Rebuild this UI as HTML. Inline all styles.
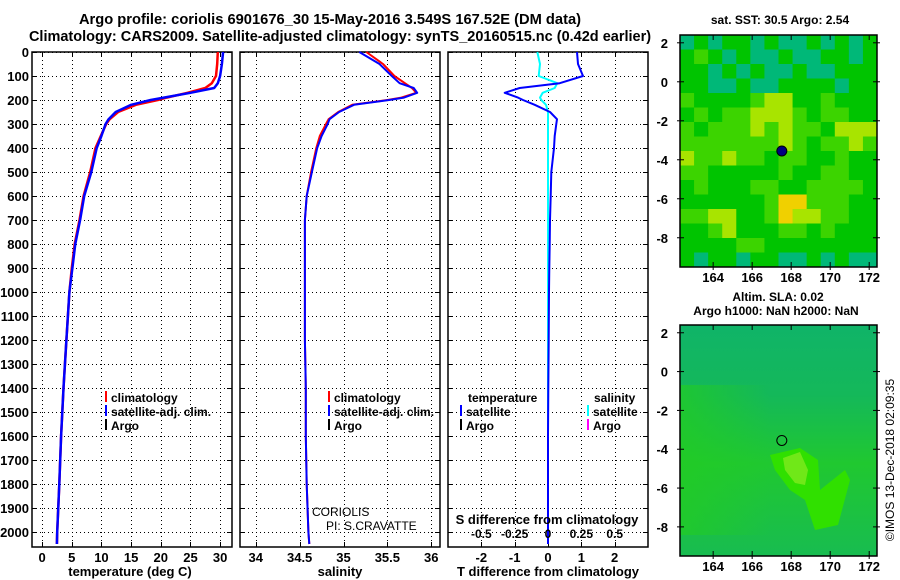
<!DOCTYPE html>
<html><head><meta charset="utf-8">
<style>
html,body{margin:0;padding:0;background:#fff;}
svg{display:block;font-family:"Liberation Sans",Arial,sans-serif;font-weight:bold;}
</style></head>
<body>
<svg id="fig" width="900" height="580" viewBox="0 0 900 580">
<text x="330" y="24" font-size="14.7" text-anchor="middle">Argo profile: coriolis 6901676_30 15-May-2016 3.549S 167.52E (DM data)</text>
<text x="340" y="41" font-size="14.5" text-anchor="middle">Climatology: CARS2009. Satellite-adjusted climatology: synTS_20160515.nc (0.42d earlier)</text>
<g id="g"></g>
</svg>
<script>
// ---------- data ----------
const depthTicks=[0,100,200,300,400,500,600,700,800,900,1000,1100,1200,1300,1400,1500,1600,1700,1800,1900,2000];
const tempTicks=[0,5,10,15,20,25,30];
const salTicks=[34,34.5,35,35.5,36];
const tdiffTicks=[-2,-1,0,1,2];
const sdiffTicks=[-0.5,-0.25,0,0.25,0.5];
const sdiffLabels=["-0.5","-0.25","0","0.25","0.5"];
const depths=[0,50,100,130,150,170,190,200,220,250,280,300,350,400,500,600,700,800,900,1000,1200,1400,1600,1800,2000,2050];
const tempArgo=[30.5,30.3,30.0,29.6,29.0,25.0,20.5,18.3,15.0,12.4,11.2,10.7,10.0,9.2,8.3,7.1,6.4,5.6,5.1,4.6,4.1,3.6,3.2,2.9,2.55,2.5];
const tempClim=[29.6,29.5,29.3,28.6,27.5,24.5,21.0,19.5,15.8,12.8,11.4,10.8,9.9,9.0,8.1,7.0,6.3,5.5,5.0,4.6,4.1,3.6,3.2,2.9,2.55,2.5];
const salArgo=[35.18,35.41,35.55,35.64,35.80,35.84,35.69,35.52,35.12,34.95,34.84,34.82,34.75,34.70,34.64,34.58,34.56,34.56,34.56,34.56,34.56,34.57,34.57,34.58,34.60,34.61];
const salClim=[35.26,35.45,35.58,35.70,35.78,35.83,35.66,35.50,35.10,34.94,34.83,34.80,34.73,34.69,34.63,34.58,34.56,34.56,34.56,34.56,34.56,34.57,34.57,34.58,34.60,34.61];
const tDiff=[0.87,0.9,1.05,0.35,-0.85,-1.3,-0.9,-0.75,-0.4,0.06,0.27,0.25,0.2,0.18,0.1,0.08,0.06,0.05,0.04,0.03,0.02,0.01,0.0,0.0,0.0,0.0];
const sDiff=[-0.08,-0.06,-0.07,0.07,0.05,-0.04,-0.06,-0.05,-0.015,0.0,0.0,0.0,0.0,0.0,0.0,0.0,0.0,0.0,0.0,0.0,0.0,0.0,0.0,0.0,0.0,0.0];
const lonTicks=[164,166,168,170,172];
const latTicks=[2,0,-2,-4,-6,-8];
const sstGrid=[
[0,1,0,1,1,0,1,0,0,1,0,1,0,1],
[1,2,1,0,1,0,0,1,0,0,1,1,0,1],
[1,1,0,1,0,1,0,0,1,0,0,1,1,1],
[1,1,0,0,1,0,0,1,1,1,1,0,1,1],
[2,1,1,1,1,2,3,3,1,1,2,1,1,1],
[1,2,1,2,2,3,3,3,2,1,2,2,1,1],
[2,1,2,2,2,3,2,3,2,2,1,3,3,3],
[2,2,2,2,2,2,2,3,2,1,2,2,3,2],
[3,2,2,3,2,2,1,2,2,1,1,2,1,1],
[2,2,1,1,1,1,1,2,1,1,2,2,1,1],
[1,2,1,1,1,2,2,1,1,2,2,2,2,1],
[1,1,1,1,1,1,2,4,4,2,2,2,1,1],
[2,2,3,3,1,1,2,4,3,3,2,2,1,1],
[1,1,2,3,1,1,1,2,2,1,2,1,1,1],
[1,1,1,1,2,2,1,1,1,1,1,1,1,1],
[1,0,1,1,0,1,1,0,0,1,0,1,0,0]];
const argoLon=167.52, argoLat=-3.549;

// ---------- helpers ----------
const NS="http://www.w3.org/2000/svg";
const G=document.getElementById('g');
function mk(tag,at,parent){const e=document.createElementNS(NS,tag);for(const k in at)e.setAttribute(k,at[k]);(parent||G).appendChild(e);return e;}
function txt(x,y,s,size,anchor,parent){const t=mk('text',{x:x,y:y,'font-size':size||13,'text-anchor':anchor||'middle'},parent);t.textContent=s;return t;}
const PT=52,PB=547;
const yD=d=>PT+d*0.24;
const px=v=>Math.round(v)+0.5;
function panel(x0,x1,xmin,xmax,name){
  const sx=v=>x0+(v-xmin)/(xmax-xmin)*(x1-x0);
  const g=mk('g',{});
  
  
  return {g,sx,x0,x1};
}
function frame(p,ticks,labels,showY){
  const g=p.g;
  depthTicks.forEach(d=>{
    const y=px(yD(d));
    const l=mk('line',{x1:p.x0,x2:p.x1,y1:y,y2:y,stroke:'#000','stroke-dasharray':'1,3','stroke-width':1,'shape-rendering':'crispEdges'},g);
    
    
    mk('line',{x1:p.x0,x2:p.x0+5,y1:y,y2:y,stroke:'#000','shape-rendering':'crispEdges'},g);
    mk('line',{x1:p.x1-5,x2:p.x1,y1:y,y2:y,stroke:'#000','shape-rendering':'crispEdges'},g);
    if(showY){const t=txt(29,yD(d)+5,String(d),13,'end',g);
      
      }
  });
  ticks.forEach((v,i)=>{
    const x=px(p.sx(v));
    const l=mk('line',{x1:x,x2:x,y1:PT,y2:PB,stroke:'#000','stroke-dasharray':'1,3','shape-rendering':'crispEdges'},g);
    
    
    mk('line',{x1:x,x2:x,y1:PB-5,y2:PB,stroke:'#000','shape-rendering':'crispEdges'},g);
    mk('line',{x1:x,x2:x,y1:PT,y2:PT+5,stroke:'#000','shape-rendering':'crispEdges'},g);
    if(labels){const t=txt(p.sx(v),562,labels[i],13,'middle',g);
      
      }
  });
  const r=mk('rect',{x:p.x0,y:PT,width:p.x1-p.x0,height:PB-PT,fill:'none',stroke:'#000','stroke-width':1.5},g);
  
  
}
function line(p,xs,ys,color,w,name){
  const pts=xs.map((v,i)=>p.sx(v).toFixed(1)+','+yD(ys[i]).toFixed(1)).join(' ');
  const l=mk('polyline',{points:pts,fill:'none',stroke:color,'stroke-width':w,'stroke-linejoin':'round'},p.g);
  
  
}
function legItem(g,x,y,color,label){
  mk('rect',{x:x,y:y-11,width:2,height:11,fill:color},g);
  const t=txt(x+6,y,label,12,'start',g);
  
  
}

// ---------- panel 1: temperature ----------
const p1=panel(32,232,-1.7,32,'temperature-panel');
frame(p1,tempTicks,tempTicks.map(String),true);
line(p1,tempClim,depths,'#f00',2.5,'temperature-climatology-line');
line(p1,tempArgo,depths,'#00f',2.5,'temperature-satellite-line');
legItem(p1.g,105,402,'#f00','climatology');
legItem(p1.g,105,416,'#00f','satellite-adj. clim.');
legItem(p1.g,105,430,'#000','Argo');
{const t=txt(130,576,'temperature (deg C)',13,'middle',p1.g);}

// ---------- panel 2: salinity ----------
const p2=panel(240,440,33.82,36.1,'salinity-panel');
frame(p2,salTicks,salTicks.map(String),false);
line(p2,salClim,depths,'#f00',2,'salinity-climatology-line');
line(p2,salArgo,depths,'#00f',2,'salinity-satellite-line');
legItem(p2.g,328,402,'#f00','climatology');
legItem(p2.g,328,416,'#00f','satellite-adj. clim.');
legItem(p2.g,328,430,'#000','Argo');
{let t=txt(312,516,'CORIOLIS',12,'start',p2.g);t.setAttribute('font-weight','normal');
 t=txt(326,530,'PI: S.CRAVATTE',12,'start',p2.g);t.setAttribute('font-weight','normal');
 t=txt(340,576,'salinity',13,'middle',p2.g);}

// ---------- panel 3: differences ----------
const p3=panel(448,648,-3,3,'difference-panel');
frame(p3,tdiffTicks,tdiffTicks.map(String),false);
const sdx=v=>v*4;
line(p3,sDiff.map(sdx),depths,'#0ff',2,'salinity-difference-line');
line(p3,tDiff,depths,'#00f',2,'temperature-difference-line');
txt(468,402,'temperature',12,'start',p3.g);
legItem(p3.g,460,416,'#00f','satellite');
legItem(p3.g,460,430,'#000','Argo');
txt(594,402,'salinity',12,'start',p3.g);
legItem(p3.g,587,416,'#0ff','satellite');
legItem(p3.g,587,430,'#f0f','Argo');
{let t=txt(547,524,'S difference from climatology',13,'middle',p3.g);
 sdiffTicks.forEach((v,i)=>{const tt=txt(p3.sx(sdx(v)),538,sdiffLabels[i],12,'middle',p3.g);
   
   });
 t=txt(548,576,'T difference from climatology',13,'middle',p3.g);}

// ---------- maps ----------
const MX0=680,MX1=877,LON0=162.3,LON1=172.4;
const mx=lon=>MX0+(lon-LON0)/(LON1-LON0)*(MX1-MX0);
function mapAxes(g,top,bot,lat0,lat1){
  const my=lat=>top+(lat0-lat)/(lat0-lat1)*(bot-top);
  lonTicks.forEach(v=>{mk('line',{x1:mx(v),x2:mx(v),y1:top,y2:top+5,stroke:'#000'},g);mk('line',{x1:mx(v),x2:mx(v),y1:bot-5,y2:bot+3,stroke:'#000'},g);
    const t=txt(mx(v),bot+15,String(v),13,'middle',g);});
  latTicks.forEach(v=>{mk('line',{x1:MX0-3,x2:MX0+4,y1:my(v),y2:my(v),stroke:'#000'},g);mk('line',{x1:MX1-4,x2:MX1+3,y1:my(v),y2:my(v),stroke:'#000'},g);
    const t=txt(MX0-12,my(v)+5,String(v),13,'end',g);});
  mk('rect',{x:MX0,y:top,width:MX1-MX0,height:bot-top,fill:'none',stroke:'#000','stroke-width':1.5},g);
  return my;
}
const pal=['#00b878','#00c400','#3cd400','#a8e400','#f0d000'];
{
  const g=mk('g',{});
  
  
  const top=35,bot=267,rows=sstGrid.length,cols=sstGrid[0].length;
  const cw=(MX1-MX0)/cols,ch=(bot-top)/rows;
  sstGrid.forEach((row,r)=>row.forEach((v,c)=>{
    const cell=mk('rect',{x:MX0+c*cw,y:top+r*ch,width:cw+0.5,height:ch+0.5,fill:pal[v]},g);
    
    
  }));
  const my=mapAxes(g,top,bot,2.4,-9.5);
  const m=mk('circle',{cx:mx(argoLon),cy:my(argoLat),r:5,fill:'#000080',stroke:'#000'},g);
  
  
  const t=txt(780,24,'sat. SST: 30.5 Argo: 2.54',12,'middle',g);
  
  
}
{
  const g=mk('g',{});
  
  
  const top=325,bot=556;
  const defs=mk('defs',{},g);
  const lg=mk('linearGradient',{id:'slag',x1:0,y1:0,x2:0,y2:1},defs);
  mk('stop',{offset:'0','stop-color':'#10b468'},lg);
  mk('stop',{offset:'0.3','stop-color':'#14b85a'},lg);
  mk('stop',{offset:'0.6','stop-color':'#20c830'},lg);
  mk('stop',{offset:'1','stop-color':'#18bc50'},lg);
  const lh=mk('linearGradient',{id:'slah',x1:0,y1:0,x2:1,y2:0},defs);
  mk('stop',{offset:'0','stop-color':'#22cc22','stop-opacity':'0.7'},lh);
  mk('stop',{offset:'1','stop-color':'#22cc22','stop-opacity':'0'},lh);
  mk('rect',{x:MX0,y:top,width:MX1-MX0,height:bot-top,fill:'url(#slag)'},g);
  mk('rect',{x:MX0,y:top+60,width:90,height:150,fill:'url(#slah)'},g);
  mk('polygon',{points:'770,455 800,448 818,460 820,490 845,470 850,480 838,525 815,530 805,500 790,490 775,470',fill:'#30e000'},g);
  mk('polygon',{points:'783,458 800,452 808,470 805,485 795,483 785,470',fill:'#70e818'},g);
  const my=mapAxes(g,top,bot,2.4,-9.5);
  const m=mk('circle',{cx:mx(argoLon),cy:my(argoLat),r:5,fill:'none',stroke:'#000'},g);
  
  
  let t=txt(778,301,'Altim. SLA: 0.02',12,'middle',g);
  
  
  t=txt(776,315,'Argo h1000: NaN h2000: NaN',12,'middle',g);
  
  
  t=txt(0,0,'©IMOS 13-Dec-2018 02:09:35',12,'middle',g);
  t.setAttribute('transform','translate(894,460) rotate(-90)');
  t.setAttribute('font-weight','normal');
  
  
}
</script>
</body></html>
